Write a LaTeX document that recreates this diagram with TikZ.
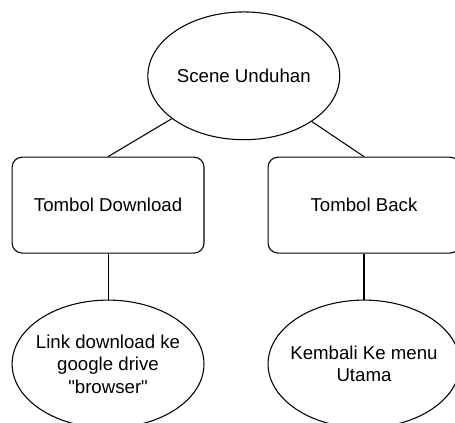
\documentclass[tikz,border=0pt]{standalone}
\usepackage{fontspec}
\setmainfont{Liberation Sans}[Ligatures=TeXOff]
\usetikzlibrary{shapes.geometric}

\begin{document}
\begin{tikzpicture}[line width=0.8pt,
        every node/.style={font=\fontsize{14}{17}\selectfont, align=center},
        bubble/.style={draw, ellipse, inner sep=0pt, inner xsep=-10pt, minimum width=5.06cm, minimum height=3.37cm},
        tombol/.style={draw, rounded corners=7.5pt, minimum width=5.06cm, minimum height=2.53cm}]
        \useasboundingbox (0,0) rectangle (12,-11.15);

        \node[bubble] at (6.43,-2.00) (A) {Scene Unduhan};
        \node[tombol] at (2.85,-5.41) (B) {Tombol Download};
        \node[tombol] at (9.60,-5.41) (C) {Tombol Back};
        \node[bubble] at (2.85,-9.60) (D) {Link download ke\\google drive\\"browser"};
        \node[bubble] at (9.60,-9.60) (E) {Kembali Ke menu\\Utama};

        \draw (A) -- (B.north);
        \draw (A) -- (C.north);
        \draw (B) -- (D);
        \draw (C) -- (E);
    \end{tikzpicture}
\end{document}
